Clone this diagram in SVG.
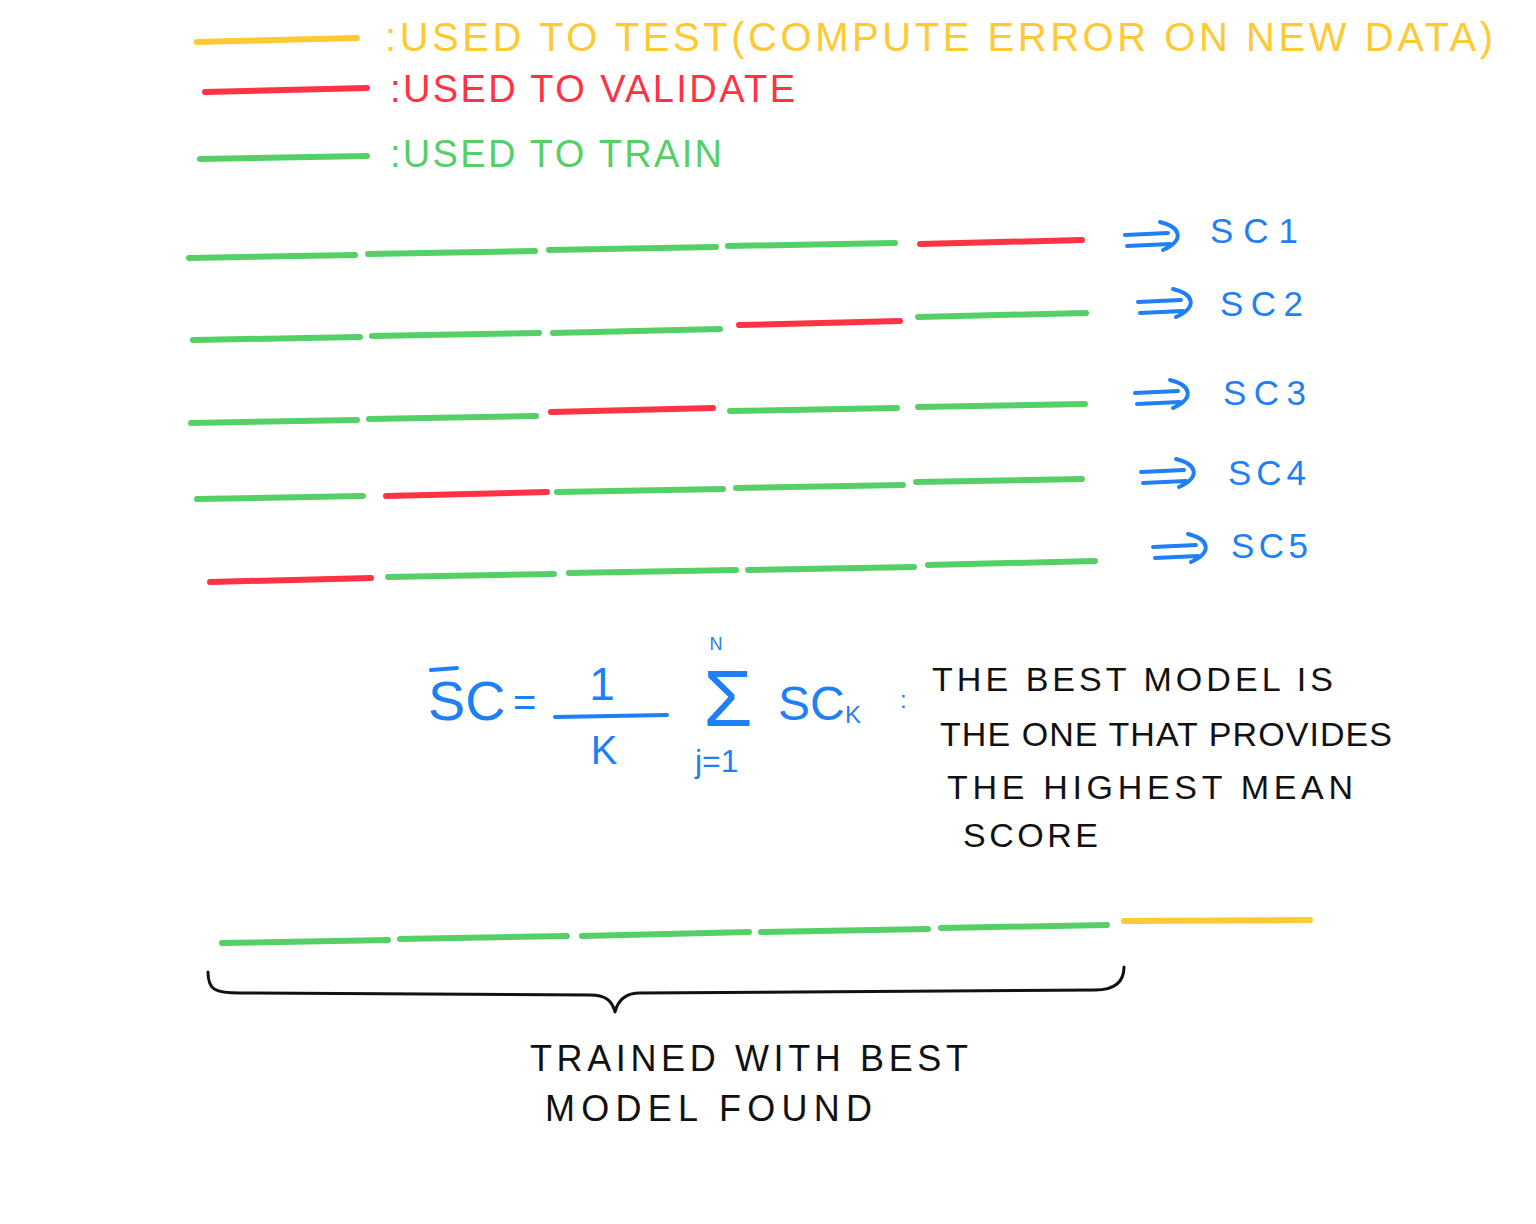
<svg xmlns="http://www.w3.org/2000/svg" xmlns:xlink="http://www.w3.org/1999/xlink" width="1536" height="1224" viewBox="0 0 1536 1224">
<style>
.seg{fill:none;stroke-width:6;stroke-linecap:round}
.g{stroke:#55d066}.r{stroke:#ff3344}.y{stroke:#ffc933}
.t{font-family:"Liberation Sans",Arial,sans-serif}
.yt{fill:#ffc933}.rt{fill:#ff3344}.gt{fill:#55d066}.bt{fill:#1f7ff5}.kt{fill:#111}
.bl{fill:none;stroke:#1f7ff5;stroke-width:4;stroke-linecap:round}
.br{fill:none;stroke:#111;stroke-width:3;stroke-linecap:round;stroke-linejoin:round}
</style>
<defs>
<path id="arr" d="M2,15 L45,13 M4,26 L47,24 M37,2 C58,7 62,20 40,30" class="bl"/>
</defs>
<rect width="1536" height="1224" fill="#fff"/>

<g id="legend-test">
<line class="seg y" x1="197" y1="42" x2="357" y2="38"/>
<text class="t yt" x="385" y="51" font-size="40" textLength="1108" lengthAdjust="spacing">:USED TO TEST(COMPUTE ERROR ON NEW DATA)</text>
</g>
<g id="legend-validate">
<line class="seg r" x1="205" y1="92" x2="367" y2="88"/>
<text class="t rt" x="390" y="102" font-size="38" textLength="405" lengthAdjust="spacing">:USED TO VALIDATE</text>
</g>
<g id="legend-train">
<line class="seg g" x1="200" y1="159" x2="367" y2="156"/>
<text class="t gt" x="390" y="167" font-size="38" textLength="332" lengthAdjust="spacing">:USED TO TRAIN</text>
</g>

<g id="fold-1">
<line class="seg g" x1="189" y1="258" x2="355" y2="255"/>
<line class="seg g" x1="368" y1="254" x2="535" y2="251"/>
<line class="seg g" x1="549" y1="250" x2="716" y2="247"/>
<line class="seg g" x1="728" y1="246" x2="895" y2="243"/>
<line class="seg r" x1="920" y1="244" x2="1082" y2="240"/>
</g>
<g id="fold-2">
<line class="seg g" x1="193" y1="340" x2="360" y2="337"/>
<line class="seg g" x1="372" y1="336" x2="539" y2="333"/>
<line class="seg g" x1="553" y1="333" x2="720" y2="329"/>
<line class="seg r" x1="739" y1="325" x2="900" y2="321"/>
<line class="seg g" x1="918" y1="317" x2="1086" y2="313"/>
</g>
<g id="fold-3">
<line class="seg g" x1="191" y1="423" x2="357" y2="420"/>
<line class="seg g" x1="369" y1="419" x2="536" y2="416"/>
<line class="seg r" x1="551" y1="412" x2="713" y2="408"/>
<line class="seg g" x1="730" y1="411" x2="897" y2="408"/>
<line class="seg g" x1="918" y1="407" x2="1085" y2="404"/>
</g>
<g id="fold-4">
<line class="seg g" x1="197" y1="499" x2="363" y2="496"/>
<line class="seg r" x1="386" y1="496" x2="547" y2="492"/>
<line class="seg g" x1="557" y1="492" x2="723" y2="489"/>
<line class="seg g" x1="736" y1="488" x2="903" y2="485"/>
<line class="seg g" x1="916" y1="482" x2="1082" y2="479"/>
</g>
<g id="fold-5">
<line class="seg r" x1="210" y1="582" x2="371" y2="578"/>
<line class="seg g" x1="388" y1="577" x2="554" y2="574"/>
<line class="seg g" x1="569" y1="573" x2="736" y2="570"/>
<line class="seg g" x1="748" y1="570" x2="914" y2="567"/>
<line class="seg g" x1="928" y1="565" x2="1095" y2="561"/>
</g>

<g id="score-1"><text class="t bt" x="1210" y="243" font-size="35" textLength="88" lengthAdjust="spacing">SC1</text></g>
<g id="score-2"><text class="t bt" x="1220" y="316" font-size="35" textLength="83" lengthAdjust="spacing">SC2</text></g>
<g id="score-3"><text class="t bt" x="1223" y="405" font-size="35" textLength="83" lengthAdjust="spacing">SC3</text></g>
<g id="score-4"><text class="t bt" x="1228" y="485" font-size="35" textLength="78" lengthAdjust="spacing">SC4</text></g>
<g id="score-5"><text class="t bt" x="1231" y="558" font-size="35" textLength="77" lengthAdjust="spacing">SC5</text></g>

<g id="formula">
<line class="bl" x1="431" y1="670" x2="457" y2="668"/>
<text class="t bt" x="428" y="720" font-size="56">SC</text>
<text class="t bt" x="513" y="716" font-size="40">=</text>
<text class="t bt" x="602" y="700" font-size="46" text-anchor="middle">1</text>
<line class="bl" x1="555" y1="717" x2="667" y2="715"/>
<text class="t bt" x="604" y="764" font-size="40" text-anchor="middle">K</text>
<text class="t bt" x="716" y="650" font-size="18" text-anchor="middle">N</text>
<text class="t bt" x="728" y="726" font-size="80" text-anchor="middle">Σ</text>
<text class="t bt" x="695" y="772" font-size="32">j=1</text>
<text class="t bt" x="778" y="720" font-size="48">SC</text>
<text class="t bt" x="845" y="723" font-size="24">K</text>
<text class="t bt" x="900" y="708" font-size="24">:</text>
</g>

<g id="best-model-note">
<text class="t kt" x="932" y="691" font-size="34" textLength="401" lengthAdjust="spacing">THE BEST MODEL IS</text>
<text class="t kt" x="940" y="746" font-size="34" textLength="452" lengthAdjust="spacing">THE ONE THAT PROVIDES</text>
<text class="t kt" x="947" y="799" font-size="34" textLength="406" lengthAdjust="spacing">THE HIGHEST MEAN</text>
<text class="t kt" x="963" y="847" font-size="34" textLength="135" lengthAdjust="spacing">SCORE</text>
</g>

<g id="final-split">
<line class="seg g" x1="222" y1="943" x2="388" y2="940"/>
<line class="seg g" x1="400" y1="939" x2="567" y2="936"/>
<line class="seg g" x1="582" y1="936" x2="749" y2="932"/>
<line class="seg g" x1="761" y1="932" x2="928" y2="929"/>
<line class="seg g" x1="941" y1="928" x2="1107" y2="925"/>
<line class="seg y" x1="1124" y1="921" x2="1310" y2="920"/>
</g>

<g id="final-label">
<text class="t kt" x="530" y="1071" font-size="36" textLength="438" lengthAdjust="spacing">TRAINED WITH BEST</text>
<text class="t kt" x="545" y="1121" font-size="36" textLength="327" lengthAdjust="spacing">MODEL FOUND</text>
</g>

<g id="connectors">
<use xlink:href="#arr" href="#arr" transform="translate(1123,220)"/>
<use xlink:href="#arr" href="#arr" transform="translate(1136,287)"/>
<use xlink:href="#arr" href="#arr" transform="translate(1133,378)"/>
<use xlink:href="#arr" href="#arr" transform="translate(1139,457)"/>
<use xlink:href="#arr" href="#arr" transform="translate(1151,532)"/>
<path class="br" d="M208,972 C208,990 215,993 240,993 L590,995 C605,995 612,1000 615,1012 C618,1000 625,993 640,993 L1095,990 C1115,990 1124,982 1124,967"/>
</g>
</svg>
